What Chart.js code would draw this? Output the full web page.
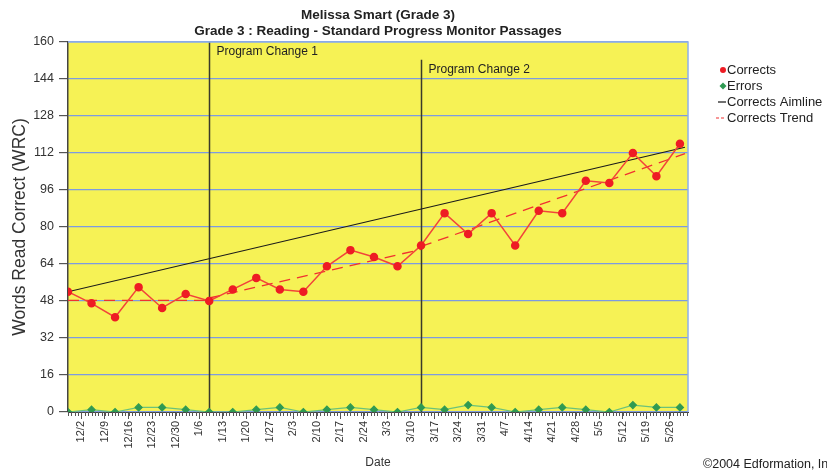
<!DOCTYPE html>
<html><head><meta charset="utf-8">
<script src="https://cdn.jsdelivr.net/npm/chart.js@4.4.1/dist/chart.umd.min.js"></script>
<style>html,body{margin:0;padding:0;background:#fff;overflow:hidden}#wrap{width:827px;height:470px}</style>
</head><body><div id="wrap"><canvas id="c" width="827" height="470"></canvas></div>
<script>
const titleLines = ['Melissa Smart (Grade 3)', 'Grade 3 : Reading - Standard Progress Monitor Passages'];
const tickDays = [0,7,14,21,28,35,42,49,56,63,70,77,84,91,98,105,112,119,126,133,140,147,154,161,168,175];
const tickLabels = ['12/2','12/9','12/16','12/23','12/30','1/6','1/13','1/20','1/27','2/3','2/10','2/17','2/24','3/3','3/10','3/17','3/24','3/31','4/7','4/14','4/21','4/28','5/5','5/12','5/19','5/26'];
const sessionDays = [-4,3,10,17,24,31,38,45,52,59,66,73,80,87,94,101,108,115,122,129,136,143,150,157,164,171,178];
const corrects = [52,47,41,54,45,51,48,53,58,53,52,63,70,67,63,72,86,77,86,72,87,86,100,99,112,102,116];
const errors = [0,1,0,2,2,1,0,0,1,2,0,1,2,1,0,2,1,3,2,0,1,2,1,0,3,2,2];
const aimDays = [-4, 179.5];
const aimValues = [52, 114.5];
const trendDays = [-4, 38, 38, 38, 101, 101, 101, 179.5];
const trendValues = [48.3, 48.3, null, 49.3, 70.3, null, 71.6, 111.7];
const changeDays = [38, 101];
const changeLabels = ['Program Change 1', 'Program Change 2'];
const changeTops = [160, 152.3];
const yTicks = [0,16,32,48,64,80,96,112,128,144,160];
const legendLabels = ['Corrects', 'Errors', 'Corrects Aimline', 'Corrects Trend'];
const xTitle = 'Date';
const yTitle = 'Words Read Correct (WRC)';
const copyright = '\u00A92004 Edformation, Inc';

const FONT = '"Liberation Sans", Arial, sans-serif';
const RED = '#ee1c24', REDLINE = '#f2433a', GREEN = '#2f9a52', GREENLINE = '#6cc27a';
const zip = (xs, ys) => xs.map((x, i) => ({x: x, y: ys[i]}));

const decor = {
  id: 'decor',
  beforeDatasetsDraw(chart) {
    const {ctx, chartArea: a, scales: {x, y}} = chart;
    ctx.save();
    changeDays.forEach((d, i) => {
      const px = Math.round(x.getPixelForValue(d)) + 0.5;
      ctx.strokeStyle = '#3a3a2a'; ctx.lineWidth = 1.5;
      ctx.beginPath(); ctx.moveTo(px, y.getPixelForValue(changeTops[i])); ctx.lineTo(px, a.bottom); ctx.stroke();
      ctx.fillStyle = '#222'; ctx.font = '12px ' + FONT; ctx.textBaseline = 'middle'; ctx.textAlign = 'left';
      ctx.fillText(changeLabels[i], px + 7, y.getPixelForValue(changeTops[i]) + 10);
    });
    ctx.restore();
  },
  beforeDraw(chart) {
    const {ctx, chartArea: a} = chart;
    ctx.save();
    ctx.fillStyle = '#f6f255';
    ctx.fillRect(a.left, a.top, a.right - a.left, a.bottom - a.top);
    ctx.restore();
  },
  afterDraw(chart) {
    const {ctx, chartArea: a, scales: {x}} = chart;
    ctx.save();
    ctx.strokeStyle = '#8fb0ea'; ctx.lineWidth = 1.5;
    ctx.beginPath(); ctx.moveTo(a.left, a.top); ctx.lineTo(a.right, a.top); ctx.lineTo(a.right, a.bottom); ctx.stroke();
    ctx.strokeStyle = '#555'; ctx.lineWidth = 1;
    for (let d = Math.ceil(x.min); d <= x.max; d++) {
      const px = Math.round(x.getPixelForValue(d)) + 0.5;
      ctx.beginPath(); ctx.moveTo(px, a.bottom); ctx.lineTo(px, a.bottom + 4); ctx.stroke();
    }
    const cx = (a.left + a.right) / 2;
    ctx.fillStyle = '#222'; ctx.textAlign = 'center'; ctx.textBaseline = 'middle';
    ctx.font = 'bold 13.5px ' + FONT;
    ctx.fillText(titleLines[0], cx, 15);
    ctx.fillText(titleLines[1], cx, 31);
    ctx.font = '12px ' + FONT; ctx.fillStyle = '#333';
    ctx.fillText(xTitle, cx, 463);
    ctx.save(); ctx.translate(20, (a.top + a.bottom) / 2); ctx.rotate(-Math.PI / 2);
    ctx.font = '17.5px ' + FONT; ctx.fillText(yTitle, 0, 0); ctx.restore();
    const lx = 722, ly = [70, 86, 102, 118];
    ctx.font = '13px ' + FONT; ctx.textAlign = 'left'; ctx.fillStyle = '#222';
    legendLabels.forEach((t, i) => ctx.fillText(t, lx + 5, ly[i]));
    ctx.fillStyle = RED; ctx.beginPath(); ctx.arc(lx + 1, ly[0], 3, 0, Math.PI * 2); ctx.fill();
    ctx.fillStyle = GREEN; ctx.beginPath();
    ctx.moveTo(lx + 1, ly[1] - 3.5); ctx.lineTo(lx + 4.5, ly[1]); ctx.lineTo(lx + 1, ly[1] + 3.5); ctx.lineTo(lx - 2.5, ly[1]); ctx.closePath(); ctx.fill();
    ctx.strokeStyle = '#111'; ctx.lineWidth = 1.2;
    ctx.beginPath(); ctx.moveTo(lx - 4, ly[2]); ctx.lineTo(lx + 4, ly[2]); ctx.stroke();
    ctx.strokeStyle = '#f03030'; ctx.setLineDash([3, 2]);
    ctx.beginPath(); ctx.moveTo(lx - 6, ly[3]); ctx.lineTo(lx + 4, ly[3]); ctx.stroke();
    ctx.setLineDash([]);
    ctx.font = '12.5px ' + FONT; ctx.fillStyle = '#222';
    ctx.fillText(copyright, 703, 465);
    ctx.restore();
  }
};

new Chart(document.getElementById('c'), {
  type: 'line',
  data: {
    datasets: [
      {label: legendLabels[0], data: zip(sessionDays, corrects), borderColor: REDLINE, backgroundColor: RED,
       pointBackgroundColor: RED, pointBorderColor: RED, pointRadius: 3.5, borderWidth: 1.5, order: 1},
      {label: legendLabels[1], data: zip(sessionDays, errors), borderColor: GREENLINE, backgroundColor: GREEN,
       pointBackgroundColor: GREEN, pointBorderColor: GREEN, pointStyle: 'rectRot', pointRadius: 3.5, borderWidth: 1.2, order: 2},
      {label: legendLabels[2], data: zip(aimDays, aimValues), borderColor: '#1a1a1a', borderWidth: 1.2, pointRadius: 0, order: 3},
      {label: legendLabels[3], data: zip(trendDays, trendValues), borderColor: '#f03030', borderWidth: 1.3,
       borderDash: [11, 7], pointRadius: 0, spanGaps: false, order: 4}
    ]
  },
  options: {
    responsive: false, animation: false, events: [],
    layout: {padding: {top: 42, right: 139, left: 0, bottom: 0}},
    plugins: {legend: {display: false}, title: {display: false}, tooltip: {enabled: false}},
    elements: {line: {tension: 0}},
    scales: {
      x: {
        type: 'linear', min: -4, max: 180.4,
        afterBuildTicks: s => { s.ticks = tickDays.map(v => ({value: v})); },
        afterFit: s => { s.height = 58; },
        ticks: {callback: v => tickLabels[tickDays.indexOf(v)], autoSkip: false, maxRotation: 90, minRotation: 90,
                font: {family: FONT, size: 11}, color: '#333', padding: 2},
        grid: {drawOnChartArea: false, drawTicks: true, tickLength: 7, color: '#555'},
        border: {display: true, color: '#444', width: 1}
      },
      y: {
        min: 0, max: 160,
        afterBuildTicks: s => { s.ticks = yTicks.map(v => ({value: v})); },
        afterFit: s => { s.width = 68; },
        ticks: {font: {family: FONT, size: 12.5}, color: '#333', padding: 5},
        grid: {color: '#7d9be0', tickLength: 9, tickColor: '#555', lineWidth: 1.2},
        border: {display: true, color: '#444', width: 1.5}
      }
    }
  },
  plugins: [decor]
});
</script></body></html>
